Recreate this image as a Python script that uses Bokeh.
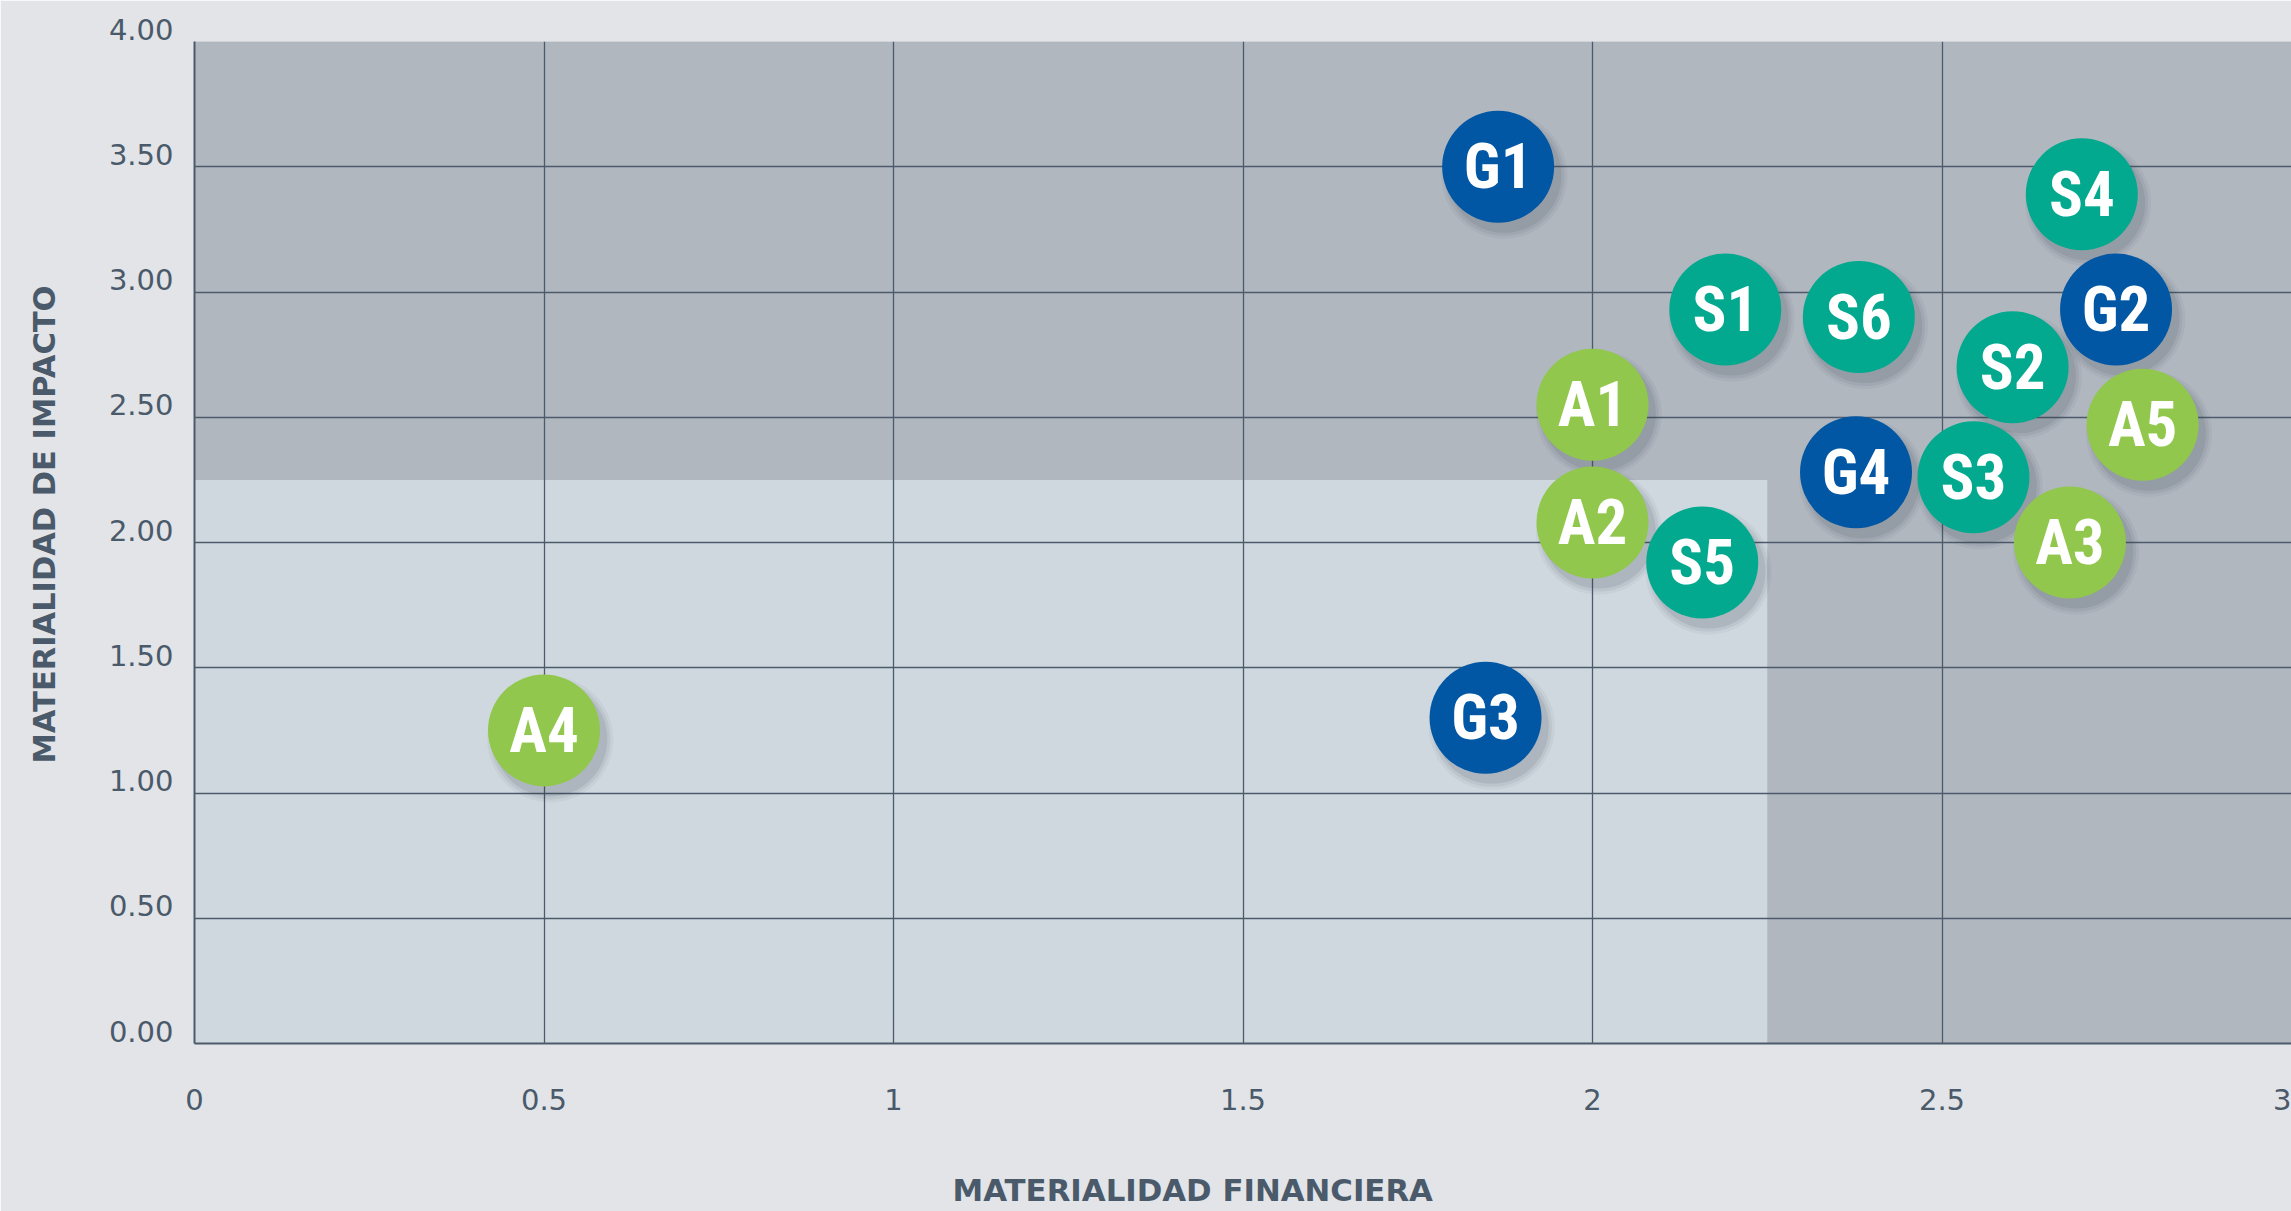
from bokeh.plotting import figure
from bokeh.models import ColumnDataSource, FixedTicker, Range1d, Title
from bokeh.transform import dodge
from bokeh.core.properties import value
from bokeh.embed import file_html
from bokeh.resources import INLINE

# ---- data ----
codes = ["G1", "G2", "G3", "G4", "S1", "S2", "S3", "S4", "S5", "S6",
         "A1", "A2", "A3", "A4", "A5"]
materialidad_financiera = [1.865, 2.749, 1.847, 2.377, 2.190, 2.601, 2.545, 2.700,
                           2.157, 2.381, 2.000, 2.000, 2.683, 0.500, 2.787]
materialidad_impacto = [3.50, 2.93, 1.30, 2.28, 2.93, 2.70, 2.26, 3.39,
                        1.92, 2.90, 2.55, 2.08, 2.00, 1.25, 2.47]
group_colors = {"G": "#0157a4", "S": "#03a98f", "A": "#91c74c"}

x_ticks = [0, 0.5, 1, 1.5, 2, 2.5, 3]
x_tick_labels = ["0", "0.5", "1", "1.5", "2", "2.5", "3"]
y_ticks = [0, 0.5, 1, 1.5, 2, 2.5, 3, 3.5, 4]
y_tick_labels = ["0.00", "0.50", "1.00", "1.50", "2.00", "2.50", "3.00", "3.50", "4.00"]
threshold = 2.25

x_title = "MATERIALIDAD FINANCIERA"
y_title = "MATERIALIDAD DE IMPACTO"

# ---- figure ----
INK = "#4a5a6a"
GRID = "#4c5b6b"
NBSP = "\u00a0"

p = figure(width=2291, height=1211, output_backend="svg", toolbar_location=None,
           x_range=Range1d(0, 3), y_range=Range1d(0, 4),
           min_border_left=194, min_border_right=0, min_border_top=41, min_border_bottom=168)
p.background_fill_color = "#b0b7bf"
p.border_fill_color = "#e2e4e8"
p.outline_line_color = None

# light quadrant
p.quad(left=[0], right=[threshold], bottom=[0], top=[threshold],
       fill_color="#d0d8df", line_color=None, level="image")

# grids
xt = FixedTicker(ticks=x_ticks)
yt = FixedTicker(ticks=y_ticks)
p.xgrid.ticker = xt
p.ygrid.ticker = yt
for g in (p.xgrid, p.ygrid):
    g.grid_line_color = GRID
    g.grid_line_width = 1.3
    g.grid_line_alpha = 1.0

# axes
for ax in (p.xaxis, p.yaxis):
    ax.axis_line_color = GRID
    ax.axis_line_width = 2
    ax.major_tick_line_color = None
    ax.minor_tick_line_color = None
    ax.major_label_text_font = "DejaVu Sans"
    ax.major_label_text_font_size = "29px"
    ax.major_label_text_color = INK
p.xaxis.ticker = xt
p.yaxis.ticker = yt
# a trailing empty line gives the x axis room so the title sits at the bottom edge
p.xaxis.major_label_overrides = {t: l + "\n" for t, l in zip(x_ticks, x_tick_labels)}
p.xaxis.major_label_text_line_height = 1.467
# a trailing empty line lifts each y label onto its grid line
p.yaxis.major_label_overrides = {t: NBSP * 3 + l + "\n" for t, l in zip(y_ticks, y_tick_labels)}
p.yaxis.major_label_text_line_height = 0.7
p.xaxis.major_label_standoff = 33
p.yaxis.major_label_standoff = 15

# axis titles
p.add_layout(Title(text=x_title, align="left", offset=758, standoff=0,
                   vertical_align="bottom",
                   text_font="DejaVu Sans", text_font_style="bold",
                   text_font_size="30.8px", text_color=INK), "below")
p.add_layout(Title(text=y_title, align="left", offset=280, standoff=33,
                   text_font="DejaVu Sans", text_font_style="bold",
                   text_font_size="30.5px", text_color=INK), "left")

# points
src = ColumnDataSource(dict(
    x=materialidad_financiera,
    y=materialidad_impacto,
    code=codes,
    color=[group_colors[c[0]] for c in codes],
))

# soft shadows
sx = dodge("x", 0.009, range=p.x_range)
sy = dodge("y", -0.036, range=p.y_range)
for size, alpha in ((126, 0.05), (120, 0.07), (114, 0.10)):
    p.scatter(x=sx, y=sy, source=src, size=size, marker="circle",
              fill_color="#2f3a46", fill_alpha=alpha, line_color=None)

p.scatter(x="x", y="y", source=src, size=112, marker="circle",
          fill_color="color", line_color=None)

p.text(x="x", y="y", text="code", source=src,
       text_font=value("'Roboto Condensed', 'DejaVu Sans Condensed', sans-serif"),
       text_font_style="bold",
       text_font_size="63px", text_color="white",
       text_align="center", text_baseline="middle")

open("out.html", "w").write(file_html(p, INLINE))
